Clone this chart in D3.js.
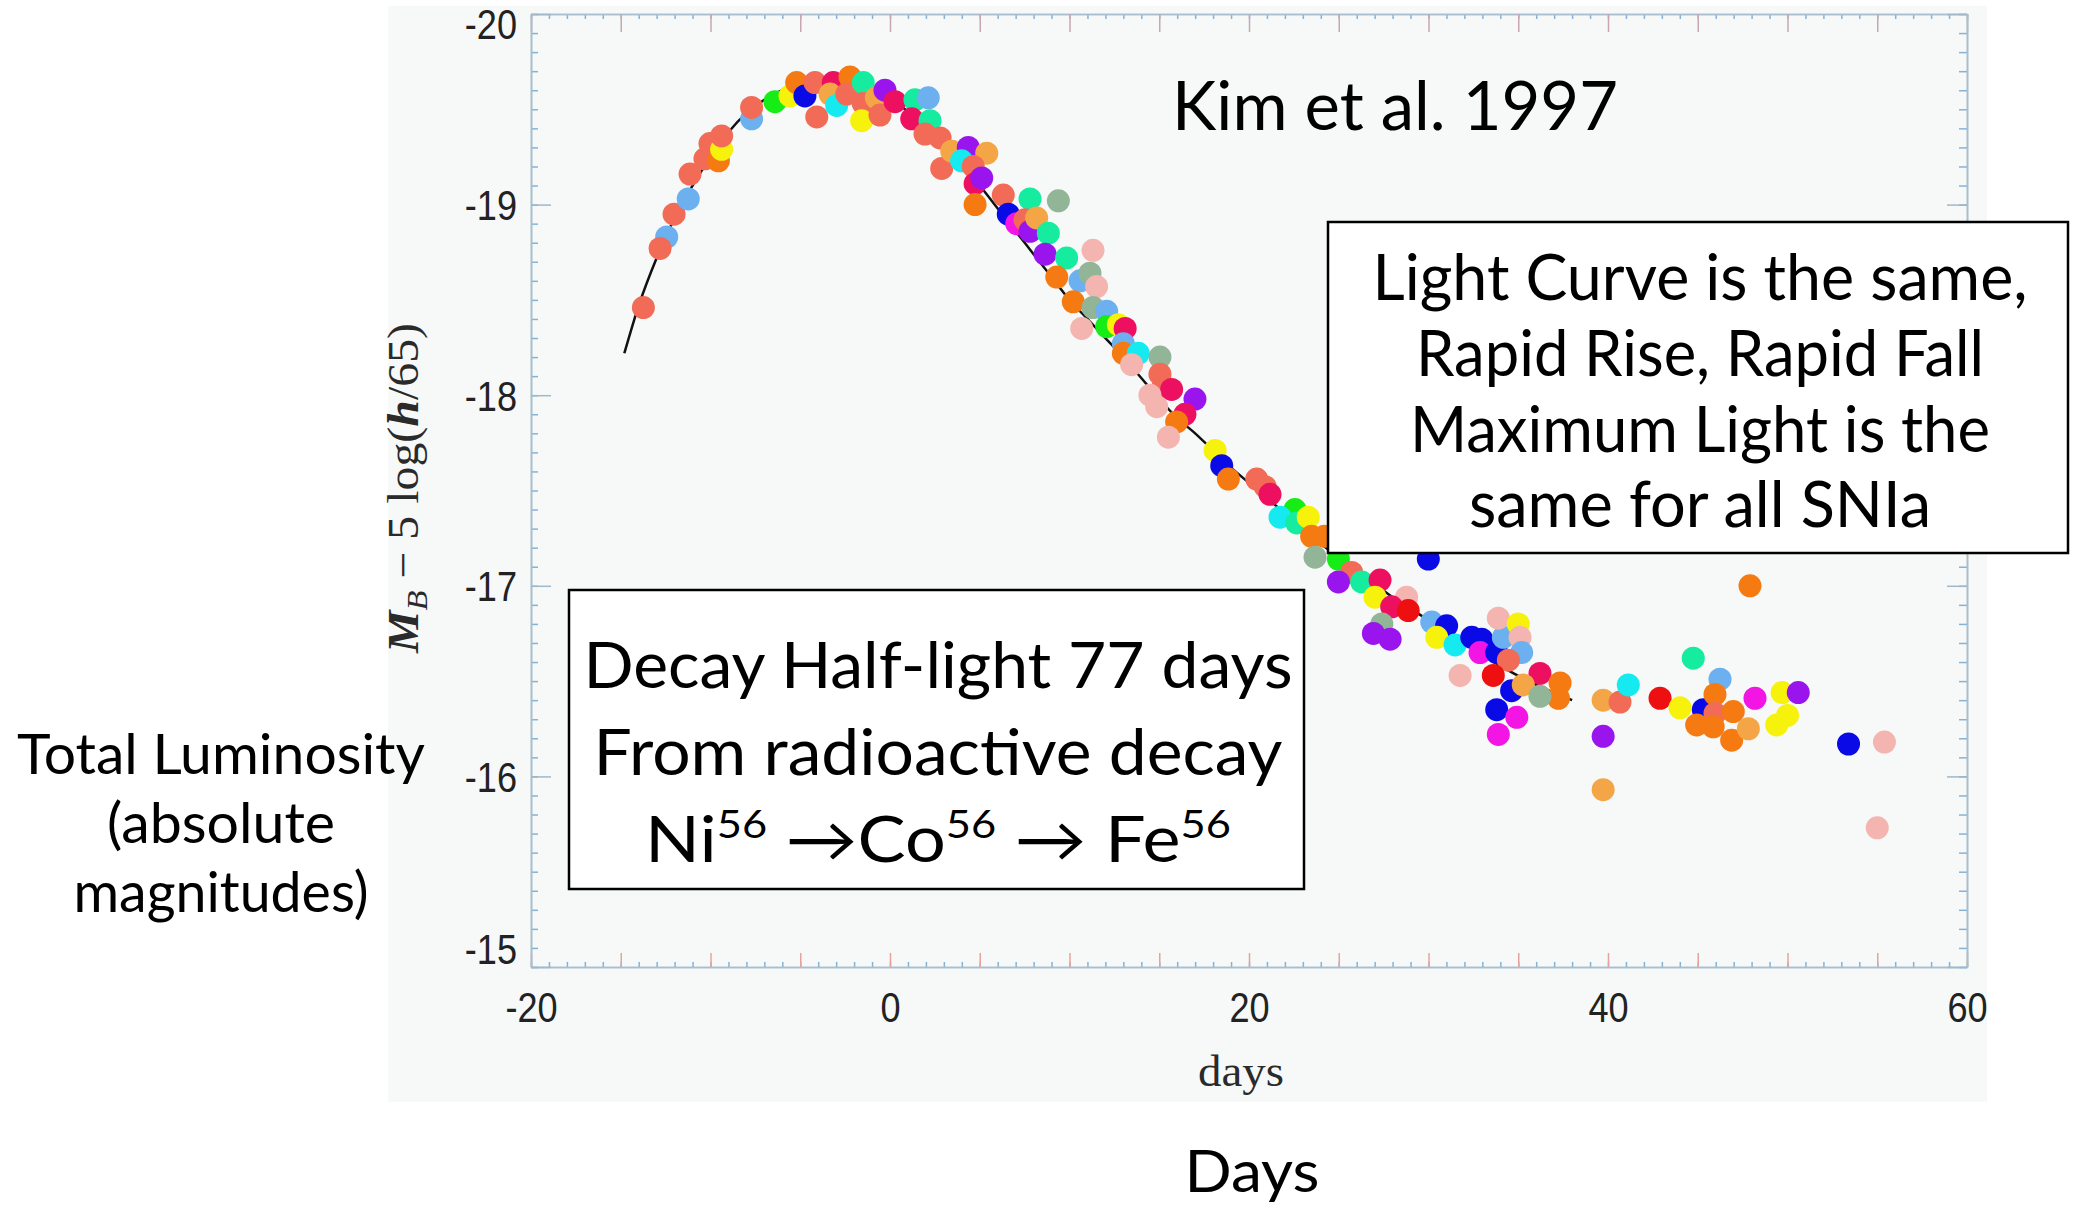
<!DOCTYPE html>
<html><head><meta charset="utf-8">
<script src="https://cdn.jsdelivr.net/npm/d3@7"></script>
<style>
html,body{margin:0;padding:0;background:#fff;}
svg{display:block;}
</style></head>
<body>
<svg id="chart" width="2076" height="1209"></svg>
<script>
// ---------- data ----------
const xTickLabels = [-20, 0, 20, 40, 60];
const yTickLabels = [-20, -19, -18, -17, -16, -15];

// template light curve (black line)
const templateDay = [-14.8,-14,-13,-12,-11,-10,-9,-8,-7,-6,-5,-4,-3,-2,-1,0,1,2,3,4,5,6,7,8,9,10,11,12,13,14,15,16,17,18,19,20,22,24,26,28,30,32,34,36,38];
const templateMag = [-18.22,-18.47,-18.72,-18.93,-19.10,-19.25,-19.38,-19.48,-19.55,-19.60,-19.63,-19.64,-19.64,-19.62,-19.59,-19.55,-19.49,-19.42,-19.33,-19.22,-19.10,-18.98,-18.86,-18.74,-18.62,-18.50,-18.40,-18.30,-18.20,-18.09,-17.98,-17.88,-17.80,-17.71,-17.62,-17.54,-17.38,-17.22,-17.08,-16.94,-16.82,-16.70,-16.58,-16.48,-16.40];

// observed points (day, magnitude, supernova colour key)
const pointDay = [-13.74,-12.44,-12.81,-12.03,-11.24,-11.14,-10.31,-10.03,-9.56,-9.38,-9.38,-7.71,-7.71,-6.41,-5.57,-5.2,-4.74,-4.18,-4.08,-3.16,-3.34,-2.97,-2.23,-2.41,-1.49,-1.49,-1.58,-0.76,-0.56,-0.28,0.28,1.39,2.13,1.21,2.23,1.95,2.79,2.88,3.44,4.36,3.99,5.39,4.64,4.74,5.11,4.74,6.31,7.80,9.38,6.59,7.06,7.52,7.80,8.17,8.82,8.64,9.84,9.29,10.59,11.14,11.31,11.51,10.21,11.31,10.68,12.07,12.07,12.72,13.1,13.0,13.0,13.83,13.46,15.04,15.04,15.2,15.69,14.48,14.86,16.99,16.43,15.97,15.51,18.11,18.48,18.85,20.43,20.9,21.17,22.56,21.73,22.66,23.3,23.49,24.2,23.68,24.98,29.99,25.72,24.98,26.28,27.3,27.02,28.78,27.95,28.87,27.4,26.93,27.86,30.18,31.01,30.46,31.48,32.41,32.96,32.87,33.80,34.17,33.89,35.0,35.1,35.19,34.45,31.76,33.61,36.21,34.63,35.28,37.33,37.24,36.21,33.80,34.92,33.89,39.73,40.67,41.13,39.73,39.73,42.90,44.01,44.75,46.24,45.31,45.96,45.96,44.94,45.86,46.98,46.89,47.82,47.91,48.19,49.7,50.6,50.0,49.4,53.4,55.4,55.0];
const pointMag = [-18.46,-18.83,-18.77,-18.95,-19.03,-19.16,-19.24,-19.32,-19.23,-19.29,-19.36,-19.45,-19.51,-19.54,-19.57,-19.64,-19.57,-19.64,-19.46,-19.64,-19.58,-19.52,-19.67,-19.58,-19.64,-19.53,-19.44,-19.56,-19.47,-19.60,-19.54,-19.55,-19.56,-19.45,-19.44,-19.37,-19.35,-19.19,-19.28,-19.30,-19.23,-19.27,-19.20,-19.11,-19.14,-19.00,-19.05,-19.03,-19.02,-18.95,-18.90,-18.92,-18.86,-18.93,-18.85,-18.74,-18.72,-18.62,-18.60,-18.64,-18.76,-18.57,-18.49,-18.46,-18.35,-18.44,-18.36,-18.37,-18.35,-18.27,-18.22,-18.22,-18.16,-18.20,-18.11,-18.04,-18.03,-18.00,-17.94,-17.98,-17.90,-17.86,-17.78,-17.71,-17.63,-17.56,-17.56,-17.52,-17.48,-17.40,-17.36,-17.33,-17.36,-17.26,-17.26,-17.15,-17.14,-17.14,-17.07,-17.02,-17.02,-17.03,-16.94,-16.94,-16.89,-16.87,-16.80,-16.75,-16.72,-16.81,-16.79,-16.73,-16.69,-16.73,-16.72,-16.65,-16.65,-16.73,-16.83,-16.80,-16.73,-16.65,-16.61,-16.53,-16.53,-16.54,-16.45,-16.48,-16.49,-16.41,-16.42,-16.35,-16.31,-16.22,-16.40,-16.39,-16.48,-16.21,-15.93,-16.41,-16.36,-16.62,-16.51,-16.35,-16.43,-16.33,-16.27,-16.26,-16.34,-16.19,-16.25,-17.00,-16.41,-16.44,-16.44,-16.32,-16.27,-16.17,-16.18,-15.73];
const pointSN = ["S","LB","S","S","LB","S","S","S","O","Y","S","LB","S","G","Y","O","B","S","S","C","LO","CY","O","S","SG","S","Y","LO","S","P","C","SG","LB","C","SG","S","S","S","LO","P","CY","LO","S","C","P","O","S","SG","SA","B","M","S","P","LO","SG","P","SG","O","LB","SA","PK","PK","O","SA","PK","LB","G","Y","C","LB","O","CY","PK","SA","S","S","C","PK","PK","P","C","O","PK","Y","B","O","S","S","C","G","CY","SG","Y","O","O","SA","G","B","S","P","SG","C","Y","PK","C","R","SA","P","P","LB","B","Y","CY","B","B","M","B","LB","PK","Y","PK","LB","S","PK","R","C","B","LO","O","O","SA","B","M","M","LO","S","CY","P","LO","R","Y","SG","LB","B","O","S","O","O","O","O","LO","O","M","Y","P","Y","Y","B","PK","PK"];

// ---------- styles ----------
const palette = {S:"#f26b56",O:"#f57a12",LO:"#f4a646",B:"#0a0ae6",P:"#9a14ee",M:"#f215e4",C:"#ee1060",R:"#ee1010",Y:"#f6f20c",CY:"#14eaf0",LB:"#6cb0f0",G:"#16ec16",SG:"#16eca0",SA:"#93b597",PK:"#f4b4b0"};

const svg = d3.select("#chart");
const x = d3.scaleLinear().domain([-20, 60]).range([531, 1967]);
const y = d3.scaleLinear().domain([-20, -15]).range([14, 967]);

// pale plot image background
svg.append("rect").attr("x", 388).attr("y", 6).attr("width", 1599).attr("height", 1096).attr("fill", "#f6f9f8");

// ---------- axes / ticks ----------
function drawTicks(gen, tr, col, w) {
  const g = svg.append("g").attr("transform", tr).call(gen);
  g.select(".domain").attr("stroke", "#a9bfcd").attr("stroke-width", 1.6);
  g.selectAll(".tick line").attr("stroke", col).attr("stroke-width", w);
  g.selectAll(".tick text").remove();
  return g;
}
const minorX = d3.range(-20, 60.01, 1);
const majorX = d3.range(-20, 60.01, 5);
const minorY = d3.range(0, 51).map(i => -20 + i * 0.1);
const majorY = d3.range(-20, -14.99, 1);

drawTicks(d3.axisBottom(x).tickValues(minorX).tickSize(-5).tickSizeOuter(0).tickFormat(""), "translate(0,967)", "#86b2d8", 1.5);
drawTicks(d3.axisBottom(x).tickValues(majorX).tickSize(-14).tickSizeOuter(0).tickFormat(""), "translate(0,967)", "#e3a49a", 1.5);
drawTicks(d3.axisTop(x).tickValues(minorX).tickSize(-5).tickSizeOuter(0).tickFormat(""), "translate(0,14)", "#86b2d8", 1.5);
drawTicks(d3.axisTop(x).tickValues(majorX).tickSize(-18).tickSizeOuter(0).tickFormat(""), "translate(0,14)", "#c9a7b0", 1.5);
drawTicks(d3.axisLeft(y).tickValues(minorY).tickSize(-7).tickSizeOuter(0).tickFormat(""), "translate(531,0)", "#86b2d8", 1.5);
drawTicks(d3.axisLeft(y).tickValues(majorY).tickSize(-20).tickSizeOuter(0).tickFormat(""), "translate(531,0)", "#a0b8c8", 1.5);
drawTicks(d3.axisRight(y).tickValues(minorY).tickSize(-8).tickSizeOuter(0).tickFormat(""), "translate(1967,0)", "#86b2d8", 1.5);
drawTicks(d3.axisRight(y).tickValues(majorY).tickSize(-20).tickSizeOuter(0).tickFormat(""), "translate(1967,0)", "#a0b8c8", 1.5);

// tick labels
const sx = 0.86;
const gx = svg.append("g").attr("transform", "translate(0,967)")
  .call(d3.axisBottom(x).tickValues(xTickLabels).tickSize(0).tickFormat(d => String(d)));
gx.select(".domain").remove();
gx.selectAll("text").attr("y", 55).attr("dy", 0)
  .attr("transform", `scale(${sx},1)`)
  .attr("font-family", "Liberation Sans, Arial, sans-serif").attr("font-size", 42).attr("fill", "#222");

const gy = svg.append("g").attr("transform", "translate(531,0)")
  .call(d3.axisLeft(y).tickValues(yTickLabels).tickSize(0).tickFormat(d => String(d)));
gy.select(".domain").remove();
gy.selectAll("text").attr("x", -14 / sx).attr("dy", d => d === -20 ? 24 : (d === -15 ? -4 : 15))
  .attr("transform", `scale(${sx},1)`)
  .attr("font-family", "Liberation Sans, Arial, sans-serif").attr("font-size", 42).attr("fill", "#222");

// y-axis title
const yt = svg.append("text").attr("transform", "translate(418,488) rotate(-90)")
  .attr("text-anchor", "middle").attr("font-family", "Liberation Serif, Times New Roman, serif")
  .attr("font-size", 44).attr("fill", "#2a2a2a");
yt.append("tspan").attr("font-style", "italic").attr("font-weight", "bold").text("M");
yt.append("tspan").attr("font-style", "italic").attr("font-size", 30).attr("dy", 9).text("B");
yt.append("tspan").attr("dy", -9).text(" \u2212 5 log(");
yt.append("tspan").attr("font-style", "italic").attr("font-weight", "bold").text("h");
yt.append("tspan").text("/65)");
yt.attr("textLength", 330).attr("lengthAdjust", "spacingAndGlyphs");

// x-axis title inside image
svg.append("text").attr("x", 1241).attr("y", 1086).attr("text-anchor", "middle")
  .attr("font-family", "Liberation Serif, Times New Roman, serif").attr("font-size", 44).attr("fill", "#2a2a2a")
  .attr("textLength", 86).attr("lengthAdjust", "spacingAndGlyphs").text("days");

// ---------- template curve & points ----------
const line = d3.line().x(d => x(d[0])).y(d => y(d[1])).curve(d3.curveMonotoneX);
svg.append("path").datum(templateDay.map((d, i) => [d, templateMag[i]]))
  .attr("d", line).attr("fill", "none").attr("stroke", "#111").attr("stroke-width", 2.5);

svg.append("g").selectAll("circle").data(pointDay.map((d, i) => ({d, m: pointMag[i], sn: pointSN[i]})))
  .join("circle").attr("cx", p => x(p.d)).attr("cy", p => y(p.m)).attr("r", 11.5)
  .attr("fill", p => palette[p.sn]);

// ---------- annotations ----------
const gill = "Lato, 'Gill Sans', 'Open Sans', sans-serif";
function label(tx, ty, str, size, width) {
  return svg.append("text").attr("x", tx).attr("y", ty).attr("text-anchor", "middle")
    .attr("font-family", gill).attr("font-size", size).attr("fill", "#000")
    .attr("textLength", width).attr("lengthAdjust", "spacingAndGlyphs").text(str);
}
label(1395, 130, "Kim et al. 1997", 67, 446);

svg.append("rect").attr("x", 1328).attr("y", 222).attr("width", 740).attr("height", 331)
  .attr("fill", "#fff").attr("stroke", "#000").attr("stroke-width", 2.5);
label(1700, 300, "Light Curve is the same,", 63, 655);
label(1700, 376, "Rapid Rise, Rapid Fall", 63, 568);
label(1700, 452, "Maximum Light is the", 63, 580);
label(1700, 527, "same for all SNIa", 63, 462);

svg.append("rect").attr("x", 569).attr("y", 590).attr("width", 735).attr("height", 299)
  .attr("fill", "#fff").attr("stroke", "#000").attr("stroke-width", 2.5);
label(938, 688, "Decay Half-light 77 days", 63, 709);
label(938, 775, "From radioactive decay", 63, 689);
const l3 = svg.append("text").attr("x", 938).attr("y", 862).attr("text-anchor", "middle")
  .attr("font-family", gill).attr("font-size", 63).attr("fill", "#000");
const parts = [["Ni", 0, 63], ["56", -24, 38], [" \u2192Co", 24, 63], ["56", -24, 38], [" \u2192 Fe", 24, 63], ["56", -24, 38]];
parts.forEach(([t, dy, fs]) => l3.append("tspan").attr("dy", dy).attr("font-size", fs).text(t));
l3.attr("textLength", 586).attr("lengthAdjust", "spacingAndGlyphs");

label(221, 774, "Total Luminosity", 56, 408);
label(221, 843, "(absolute", 56, 228);
label(221, 912, "magnitudes)", 56, 295);

label(1252, 1192, "Days", 58, 135);
</script>
</body></html>
